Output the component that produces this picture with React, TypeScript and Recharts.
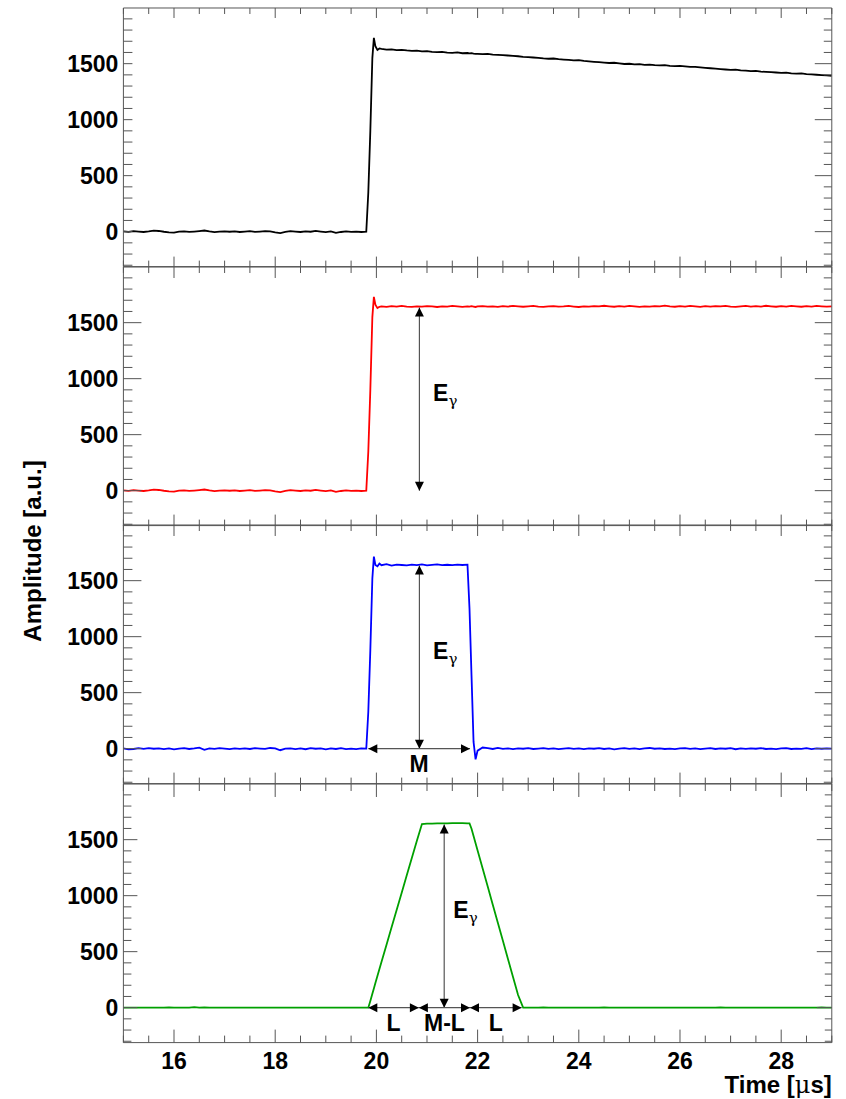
import React from "react";
import {
  LineChart,
  Line,
  XAxis,
  YAxis,
  ReferenceLine,
  ReferenceDot,
} from "recharts";

// sample times in µs (denser around the edges of the pulse)
const TIME = [
  15.0, 15.1, 15.2, 15.3, 15.4, 15.5, 15.6, 15.7, 15.8, 15.9,
  16.0, 16.1, 16.2, 16.3, 16.4, 16.5, 16.6, 16.7, 16.8, 16.9,
  17.0, 17.1, 17.2, 17.3, 17.4, 17.5, 17.6, 17.7, 17.8, 17.9,
  18.0, 18.1, 18.2, 18.3, 18.4, 18.5, 18.6, 18.7, 18.8, 18.9,
  19.0, 19.1, 19.2, 19.3, 19.4, 19.5, 19.6, 19.7, 19.8,
  19.84, 19.88, 19.92, 19.95, 19.98, 20.02, 20.06,
  20.1, 20.2, 20.3, 20.4, 20.5, 20.6, 20.7, 20.8, 20.9, 21.0,
  21.1, 21.2, 21.3, 21.4, 21.5, 21.6, 21.7, 21.8,
  21.84, 21.88, 21.92, 21.96,
  22.0, 22.1, 22.2, 22.3, 22.4, 22.5, 22.6, 22.7, 22.8, 22.9,
  23.0, 23.1, 23.2, 23.3, 23.4, 23.5, 23.6, 23.7, 23.8, 23.9,
  24.0, 24.1, 24.2, 24.3, 24.4, 24.5, 24.6, 24.7, 24.8, 24.9,
  25.0, 25.1, 25.2, 25.3, 25.4, 25.5, 25.6, 25.7, 25.8, 25.9,
  26.0, 26.1, 26.2, 26.3, 26.4, 26.5, 26.6, 26.7, 26.8, 26.9,
  27.0, 27.1, 27.2, 27.3, 27.4, 27.5, 27.6, 27.7, 27.8, 27.9,
  28.0, 28.1, 28.2, 28.3, 28.4, 28.5, 28.6, 28.7, 28.8, 28.9,
  29.0,
];

// preamp output
const RAW = [
  3, -2, 4, 1, -3, 2, 9, 6, -1, -6,
  -9, 0, 3, -2, 1, 5, 10, 2, -4, 1,
  3, -1, 2, -3, 0, 4, -2, 1, 5, 3,
  -6, -13, -2, 4, 1, -3, 2, -1, 6, 1,
  -4, 2, -11, -3, 3, -2, 1, -3, 0,
  350, 900, 1550, 1730, 1655, 1622, 1636,
  1632, 1626, 1628, 1621, 1623, 1618, 1615, 1617, 1610, 1612,
  1606, 1603, 1605, 1599, 1597, 1600, 1593, 1595,
  1592, 1594, 1590, 1588,
  1588, 1585, 1587, 1581, 1579, 1576, 1573, 1569, 1566, 1561,
  1558, 1555, 1552, 1547, 1544, 1546, 1540, 1536, 1533, 1529,
  1531, 1524, 1520, 1516, 1513, 1509, 1506, 1508, 1503, 1497,
  1499, 1494, 1496, 1490, 1492, 1487, 1484, 1486, 1481, 1478,
  1480, 1476, 1472, 1471, 1466, 1462, 1459, 1455, 1451, 1448,
  1444, 1446, 1440, 1437, 1433, 1435, 1429, 1426, 1424, 1421,
  1418, 1420, 1414, 1411, 1413, 1407, 1404, 1401, 1398, 1395,
  1392,
];

// after pole-zero correction
const POLE_ZERO = [
  3, -2, 4, 1, -3, 2, 9, 6, -1, -6,
  -9, 0, 3, -2, 1, 5, 10, 2, -4, 1,
  3, -1, 2, -3, 0, 4, -2, 1, 5, 3,
  -6, -13, -2, 4, 1, -3, 2, -1, 6, 1,
  -4, 2, -11, -3, 3, -2, 1, -3, 0,
  350, 900, 1550, 1730, 1660, 1630, 1642,
  1646, 1641, 1647, 1643, 1649, 1644, 1641, 1646, 1643, 1648,
  1645, 1640, 1646, 1644, 1649, 1645, 1641, 1646,
  1643, 1647, 1644, 1640,
  1645, 1648, 1643, 1646, 1641, 1647, 1644, 1649, 1645, 1642,
  1646, 1650, 1644, 1641, 1646, 1648, 1643, 1645, 1649, 1644,
  1640, 1646, 1643, 1648, 1645, 1651, 1646, 1642, 1647, 1644,
  1649, 1645, 1641, 1646, 1643, 1648, 1645, 1652, 1646, 1642,
  1647, 1644, 1649, 1645, 1641, 1647, 1643, 1648, 1645, 1650,
  1644, 1641, 1646, 1649, 1643, 1647, 1644, 1651, 1646, 1642,
  1647, 1644, 1649, 1645, 1642, 1647, 1644, 1649, 1646, 1643,
  1645,
];

// delayed difference (window M)
const DIFFERENCE = [
  2, -6, -3, 4, -2, 5, -1, 3, -4, 2,
  -7, 1, 4, -3, 2, 9, -11, 3, -2, 4,
  1, -4, 3, -2, 2, -3, 4, 1, -2, 6,
  3, -14, 1, 3, -4, 2, -5, 5, -1, 3,
  -6, 2, -3, 4, -5, 1, -4, 2, 0,
  330, 880, 1520, 1715, 1640, 1628, 1652,
  1638, 1648, 1635, 1644, 1640, 1636, 1643, 1639, 1645, 1637,
  1641, 1646, 1638, 1642, 1639, 1644, 1640, 1643,
  1250, 650, 60, -95,
  -18, 10, 4, -3, 6, -2, 3, -4, 2, -1,
  4, -3, 1, 5, -2, 3, -5, 1, 4, -2,
  2, -4, 3, -1, 5, -3, 2, -6, 1, 4,
  -2, 3, -4, 2, 6, -1, 3, -3, 1, -5,
  2, 4, -2, 3, -4, 1, 5, -3, 2, -1,
  4, -5, 2, -2, 3, -1, 5, -3, 1, -4,
  2, 4, -3, 1, -2, 5, -4, 2, -1, 3,
  0,
];

// trapezoidal filter output
const TRAPEZOID = [
  0, 0, 0, 0, 0, 0, 0, 0, 0, 3,
  0, 1, 0, 0, 4, 0, 3, 0, 0, 0,
  0, 0, 0, 0, 0, 0, 0, 0, 0, 0,
  0, 0, 0, 0, 0, 0, 0, 0, 0, 0,
  0, 0, 0, 0, 0, 0, 0, 0, 0,
  0, 60, 125, 172, 220, 283, 345,
  407, 562, 717, 872, 1027, 1182, 1337, 1490, 1640, 1643,
  1644, 1645, 1646, 1646, 1647, 1647, 1647, 1646,
  1645, 1597, 1532, 1468,
  1403, 1242, 1081, 919, 758, 597, 435, 274, 113, 0,
  0, 0, 0, 2, 0, 0, 0, 0, 0, 0,
  0, 0, 0, 0, 0, 2, 0, 0, 0, 0,
  0, 0, 0, 0, 0, 0, 0, 0, 0, 0,
  0, 0, 0, 0, 0, 0, 0, 0, 2, 0,
  0, 0, 0, 0, 0, 0, 0, 0, 0, 0,
  0, 0, 0, 0, 0, 0, 0, 0, 2, 0,
  0,
];

const X_TICKS = [
  15, 15.5, 16, 16.5, 17, 17.5, 18, 18.5, 19, 19.5, 20, 20.5, 21, 21.5, 22,
  22.5, 23, 23.5, 24, 24.5, 25, 25.5, 26, 26.5, 27, 27.5, 28, 28.5, 29,
];
const X_LABELS = [16, 18, 20, 22, 24, 26, 28];
const Y_TICKS = [
  -300, -200, -100, 0, 100, 200, 300, 400, 500, 600, 700, 800, 900, 1000,
  1100, 1200, 1300, 1400, 1500, 1600, 1700, 1800, 1900,
];
const Y_LABELS = [0, 500, 1000, 1500];

// annotation anchors (µs / amplitude)
const E_ARROW_X = [20.85, 20.85, 21.34];
const E_ARROW_TOP = 1635;
const E_LABEL_X = [21.12, 21.12, 21.52];
const E_LABEL_Y = 800;
const M_SPAN = [19.84, 21.85];
const L_EDGES = [19.84, 20.84, 21.85, 22.87];
const L_TEXT = ["L", "M-L", "L"];
const SPAN_LABEL_Y = -212;

const rows = TIME.map((t, i) => ({
  t,
  raw: RAW[i],
  pz: POLE_ZERO[i],
  diff: DIFFERENCE[i],
  trap: TRAPEZOID[i],
}));

const W = 846;
const PLOT_LEFT = 123.4;
const PLOT_RIGHT = 831.8;
const PANEL_H = 258.6;
const PAD = 4;
const AXIS_H = 60;
const FRAME = "#555";
const FONT = "'Liberation Sans', Arial, Helvetica, sans-serif";
const GREEK = "'DejaVu Serif', 'DejaVu Sans', serif";
const Y_DOMAIN = [-312, 1997];

const PANELS = [
  { key: "raw", color: "#000000", top: 8, xt: [10, 6], lt: [9, 9], rt: [17, 8] },
  { key: "pz", color: "#ff0000", top: 266.6, xt: [11, 6], lt: [18, 9], rt: [17, 8] },
  { key: "diff", color: "#0000ff", top: 525.2, xt: [11, 6], lt: [18, 9], rt: [17, 8] },
  { key: "trap", color: "#00a000", top: 783.8, xt: [13, 7], lt: [14, 8], rt: [15, 7] },
];

// tick lines point into the frame; x is the axis line position
const xTick = (len: number[], bottom: boolean, labels: boolean) => (p: any) => {
  const v = p.payload.value;
  const major = v % 2 === 0;
  const l = major ? len[0] : len[1];
  return (
    <g>
      <line x1={p.x} x2={p.x} y1={p.y} y2={bottom ? p.y - l : p.y + l} stroke={FRAME} />
      {labels && X_LABELS.includes(v) && (
        <text
          x={p.x}
          y={p.y + 26}
          textAnchor="middle"
          fontFamily={FONT}
          fontWeight="bold"
          fontSize={23}
          fill="#000"
        >
          {v}
        </text>
      )}
    </g>
  );
};

const yTick = (len: number[], left: boolean) => (p: any) => {
  const v = p.payload.value;
  const major = v % 500 === 0;
  const l = major ? len[0] : len[1];
  return (
    <g>
      <line x1={p.x} x2={left ? p.x + l : p.x - l} y1={p.y} y2={p.y} stroke={FRAME} />
      {left && Y_LABELS.includes(v) && (
        <text
          x={p.x - 5}
          y={p.y + 8}
          textAnchor="end"
          fontFamily={FONT}
          fontWeight="bold"
          fontSize={23}
          fill="#000"
        >
          {v}
        </text>
      )}
    </g>
  );
};

// line with a filled head on both ends
const doubleArrow = (p: any) => {
  const { x1, y1, x2, y2 } = p;
  const d = Math.hypot(x2 - x1, y2 - y1) || 1;
  const ux = (x2 - x1) / d;
  const uy = (y2 - y1) / d;
  const head = (tx: number, ty: number, sx: number, sy: number) => {
    const bx = tx - sx * 9;
    const by = ty - sy * 9;
    return `${tx},${ty} ${bx - sy * 4.5},${by + sx * 4.5} ${bx + sy * 4.5},${by - sx * 4.5}`;
  };
  return (
    <g>
      <line x1={x1} y1={y1} x2={x2} y2={y2} stroke={FRAME} strokeWidth={1.2} />
      <polygon points={head(x2, y2, ux, uy)} fill="#000" />
      <polygon points={head(x1, y1, -ux, -uy)} fill="#000" />
    </g>
  );
};

const textMark = (text: string, sub: string | null, anchor: string) => (p: any) => (
  <text
    x={p.cx}
    y={p.cy}
    textAnchor={anchor}
    fontFamily={FONT}
    fontWeight="bold"
    fontSize={23}
    fill="#000"
  >
    {text}
    {sub && (
      <tspan fontFamily={GREEK} fontSize={15} fontWeight="normal" dy={5}>
        {sub}
      </tspan>
    )}
  </text>
);

const axisIds = { xAxisId: "b", yAxisId: "l" };

function annotations(i: number) {
  if (i === 0) return [];
  const out: any[] = [
    <ReferenceLine
      key="e"
      {...axisIds}
      segment={[
        { x: E_ARROW_X[i - 1], y: 0 },
        { x: E_ARROW_X[i - 1], y: E_ARROW_TOP },
      ]}
      shape={doubleArrow}
    />,
    <ReferenceDot
      key="et"
      {...axisIds}
      x={E_LABEL_X[i - 1]}
      y={E_LABEL_Y}
      r={0}
      shape={textMark("E", "γ", "start")}
    />,
  ];
  if (i === 2) {
    out.push(
      <ReferenceLine
        key="m"
        {...axisIds}
        segment={[
          { x: M_SPAN[0], y: 0 },
          { x: M_SPAN[1], y: 0 },
        ]}
        shape={doubleArrow}
      />,
      <ReferenceDot
        key="mt"
        {...axisIds}
        x={(M_SPAN[0] + M_SPAN[1]) / 2}
        y={SPAN_LABEL_Y}
        r={0}
        shape={textMark("M", null, "middle")}
      />
    );
  }
  if (i === 3) {
    L_TEXT.forEach((txt, k) => {
      out.push(
        <ReferenceLine
          key={`l${k}`}
          {...axisIds}
          segment={[
            { x: L_EDGES[k], y: 0 },
            { x: L_EDGES[k + 1], y: 0 },
          ]}
          shape={doubleArrow}
        />,
        <ReferenceDot
          key={`lt${k}`}
          {...axisIds}
          x={(L_EDGES[k] + L_EDGES[k + 1]) / 2}
          y={SPAN_LABEL_Y}
          r={0}
          shape={textMark(txt, null, "middle")}
        />
      );
    });
  }
  return out;
}

function Panel({ cfg, index }: { cfg: any; index: number }) {
  const last = index === PANELS.length - 1;
  const bottomH = last ? AXIS_H : PAD;
  const height = PAD + PANEL_H + bottomH;
  return (
    <div style={{ position: "absolute", left: 0, top: cfg.top - PAD }}>
      <LineChart
        width={W}
        height={height}
        data={rows}
        margin={{ top: 0, right: 0, bottom: 0, left: 0 }}
      >
        <XAxis
          xAxisId="b"
          dataKey="t"
          type="number"
          domain={[15, 29]}
          allowDataOverflow
          ticks={X_TICKS}
          interval={0}
          height={bottomH}
          tickSize={0}
          tickMargin={0}
          tickLine={false}
          axisLine={{ stroke: FRAME }}
          tick={xTick(cfg.xt, true, last)}
        />
        <XAxis
          xAxisId="t"
          orientation="top"
          dataKey="t"
          type="number"
          domain={[15, 29]}
          allowDataOverflow
          ticks={X_TICKS}
          interval={0}
          height={PAD}
          tickSize={0}
          tickMargin={0}
          tickLine={false}
          axisLine={{ stroke: FRAME }}
          tick={xTick(cfg.xt, false, false)}
        />
        <YAxis
          yAxisId="l"
          type="number"
          domain={Y_DOMAIN}
          allowDataOverflow
          ticks={Y_TICKS}
          interval={0}
          width={PLOT_LEFT}
          tickSize={0}
          tickMargin={0}
          tickLine={false}
          axisLine={{ stroke: FRAME }}
          tick={yTick(cfg.lt, true)}
        />
        <YAxis
          yAxisId="r"
          orientation="right"
          type="number"
          domain={Y_DOMAIN}
          allowDataOverflow
          ticks={Y_TICKS}
          interval={0}
          width={W - PLOT_RIGHT}
          tickSize={0}
          tickMargin={0}
          tickLine={false}
          axisLine={{ stroke: FRAME }}
          tick={yTick(cfg.rt, false)}
        />
        <Line
          xAxisId="b"
          yAxisId="l"
          type="linear"
          dataKey={cfg.key}
          stroke={cfg.color}
          strokeWidth={1.8}
          dot={false}
          activeDot={false}
          isAnimationActive={false}
        />
        {annotations(index)}
      </LineChart>
    </div>
  );
}

export default function App() {
  return (
    <div
      style={{
        position: "absolute",
        left: 0,
        top: 0,
        width: W,
        height: 1099,
        background: "#fff",
        overflow: "hidden",
      }}
    >
      {PANELS.map((cfg, i) => (
        <Panel key={cfg.key} cfg={cfg} index={i} />
      ))}
      <svg
        width={W}
        height={1099}
        style={{ position: "absolute", left: 0, top: 0, pointerEvents: "none" }}
      >
        <text
          x={41}
          y={551}
          transform="rotate(-90 41 551)"
          textAnchor="middle"
          fontFamily={FONT}
          fontWeight="bold"
          fontSize={24}
          fill="#000"
        >
          Amplitude [a.u.]
        </text>
        <text
          x={PLOT_RIGHT}
          y={1093}
          textAnchor="end"
          fontFamily={FONT}
          fontWeight="bold"
          fontSize={24}
          fill="#000"
        >
          Time [<tspan fontFamily={GREEK} fontWeight="normal">μ</tspan>s]
        </text>
      </svg>
    </div>
  );
}
